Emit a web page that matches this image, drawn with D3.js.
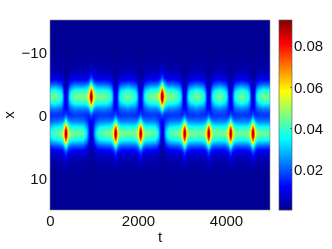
<!DOCTYPE html>
<html><head><meta charset="utf-8"><script src="https://cdn.jsdelivr.net/npm/d3@7"></script>
<style>html,body{margin:0;padding:0;background:#fff;width:332px;height:249px;overflow:hidden}
#c{position:absolute;left:50px;top:20px}svg{position:absolute;left:0;top:0}
text{font-family:"Liberation Sans",Arial,sans-serif;font-size:15px;fill:#111}</style></head><body>
<canvas id="c" width="220" height="190"></canvas><svg id="s" width="332" height="249"></svg>
<script>
const tTicks=[0,2000,4000], xTicks=[-10,0,10], cTicks=[0.02,0.04,0.06,0.08];
const upperCentre=-3.0, lowerCentre=2.9;
const upperBursts=[939,2552], lowerBursts=[364,1493,2061,3061,3607,4107,4615];
const upperT=[0,50,120,240,285,315,339,364,389,413,443,490,570,800,939,1100,1290,1370,1414,1443,1468,1493,1518,1543,1573,1620,1770,1930,1980,2011,2036,2061,2086,2111,2141,2190,2300,2552,2800,2930,2980,3011,3036,3061,3086,3111,3141,3190,3334,3480,3527,3557,3582,3607,3632,3657,3687,3735,3857,3980,4027,4057,4082,4107,4132,4157,4187,4235,4361,4490,4535,4565,4590,4615,4640,4665,4695,4745,4850,5000];
const upperA=[.038,.043,.044,.038,.03,.017,.008,.004,.008,.017,.03,.038,.044,.044,.044,.044,.043,.038,.03,.017,.008,.004,.008,.017,.03,.038,.044,.038,.03,.017,.008,.004,.008,.017,.03,.038,.044,.045,.044,.038,.03,.017,.008,.004,.008,.017,.03,.038,.044,.038,.03,.017,.008,.004,.008,.017,.03,.038,.044,.038,.03,.017,.008,.004,.008,.017,.03,.038,.044,.038,.03,.017,.008,.004,.008,.017,.03,.038,.044,.042];
const lowerT=[0,80,200,364,550,760,840,880,914,939,964,998,1040,1120,1300,1493,1750,2061,2250,2400,2470,2505,2530,2552,2575,2600,2640,2720,2900,3061,3400,3607,4107,4615,5000];
const lowerA=[.034,.039,.042,.043,.043,.041,.03,.017,.007,.004,.007,.017,.03,.04,.043,.043,.043,.043,.043,.041,.03,.017,.007,.004,.007,.017,.03,.04,.043,.043,.043,.043,.043,.043,.042];
const bandDx=[0,.5,1,1.5,2,2.5,3,4,5,6,8,12,30];
const bandV=[1,.94,.8,.62,.44,.29,.18,.08,.04,.022,.008,.002,0];
const burstDx=[0,.5,1,1.5,2,2.5,3,4,5,6,7,30];
const burstV=[1,.95,.8,.6,.42,.3,.21,.11,.05,.02,0,0];
const burstDt=[0,15,30,45,60,80,110,150,6000];
const burstS=[1,.88,.62,.4,.24,.12,.04,0,0];
const burstHeight=0.048;
const jetStops=["#00008f","#0000ff","#00ffff","#ffff00","#ff0000","#800000"];
const jetPos=[0,.125,.375,.625,.875,1];

const x=d3.scaleLinear().domain([0,5000]).range([50,270]);
const y=d3.scaleLinear().domain([-15,15]).range([21,210]);
const cMin=0.0006,cMax=0.0926;
const cPos=d3.scaleLinear().domain([cMin,cMax]).range([210,20]);
const jet=d3.scaleLinear().domain(jetPos.map(p=>cMin+p*(cMax-cMin))).range(jetStops).clamp(true);
const up=d3.scaleLinear().domain(upperT).range(upperA).clamp(true);
const lo=d3.scaleLinear().domain(lowerT).range(lowerA).clamp(true);
const band=d3.scaleLinear().domain(bandDx).range(bandV).clamp(true);
const bq=d3.scaleLinear().domain(burstDx).range(burstV).clamp(true);
const bs=d3.scaleLinear().domain(burstDt).range(burstS).clamp(true);
function field(t,v){
  const du=Math.abs(v-upperCentre),dl=Math.abs(v-lowerCentre);
  let f=up(t)*band(du)+lo(t)*band(dl);
  upperBursts.forEach(b=>f+=burstHeight*bs(Math.abs(t-b))*bq(du));
  lowerBursts.forEach(b=>f+=burstHeight*bs(Math.abs(t-b))*bq(dl));
  return f+0.0008;
}
const ctx=document.getElementById("c").getContext("2d");
for(let i=0;i<220;i++)for(let j=0;j<190;j++){
  ctx.fillStyle=jet(field(x.invert(50+i+.5),y.invert(20+j+.5)));ctx.fillRect(i,j,1,1);
}
const s=d3.select("#s");
const bar=s.append("g");
d3.range(190).forEach(k=>bar.append("rect").attr("x",279).attr("width",13).attr("y",20+k).attr("height",1.2)
  .attr("fill",jet(cPos.invert(20+k+.5))));
s.append("rect").attr("x",279).attr("y",20).attr("width",13).attr("height",190).attr("fill","none").attr("stroke","#555").attr("stroke-width",.6);
s.append("rect").attr("x",50).attr("y",20).attr("width",220).attr("height",190).attr("fill","none").attr("stroke","#888").attr("stroke-width",.6);
const ax=s.append("g").attr("transform","translate(0,210)").call(d3.axisBottom(x).tickValues(tTicks).tickFormat(d3.format("d")).tickSize(0).tickPadding(5));
const ay=s.append("g").attr("transform","translate(50,0)").call(d3.axisLeft(y).tickValues(xTicks).tickFormat(d=>d<0?"\u2212"+(-d):d).tickSize(0).tickPadding(3));
const ac=s.append("g").attr("transform","translate(292,0)").call(d3.axisRight(cPos).tickValues(cTicks).tickFormat(d3.format(".2f")).tickSize(0).tickPadding(2));
[ax,ay,ac].forEach(a=>{a.select(".domain").remove();a.selectAll("text").style("font-size","15px").style("font-family",'"Liberation Sans",Arial,sans-serif').attr("fill","#111");});
cTicks.forEach(d=>s.append("line").attr("x1",292).attr("x2",290).attr("y1",cPos(d)).attr("y2",cPos(d)).attr("stroke","#333").attr("stroke-width",.6));
s.append("text").attr("x",160).attr("y",242).attr("text-anchor","middle").text("t");
s.append("text").attr("transform","translate(14,115) rotate(-90)").attr("text-anchor","middle").text("x");
</script></body></html>
